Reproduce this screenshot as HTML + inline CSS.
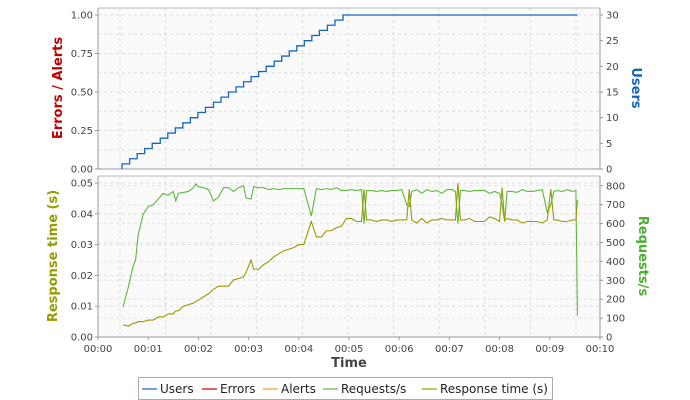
<!DOCTYPE html>
<html><head><meta charset="utf-8"><style>
body{margin:0;background:#fff;font-family:"Liberation Sans","DejaVu Sans",sans-serif}
svg{display:block}
text{font-family:"DejaVu Sans","Liberation Sans",sans-serif}
</style></head><body>
<svg id="c" width="690" height="400" xmlns="http://www.w3.org/2000/svg"></svg>
<script>
const stepTimes=[0.48,0.63,0.78,0.93,1.08,1.24,1.39,1.54,1.69,1.84,1.99,2.14,2.30,2.45,2.60,2.75,2.90,3.05,3.20,3.35,3.51,3.66,3.81,3.96,4.11,4.26,4.41,4.57,4.72,4.88];
const userCounts=[1,2,3,4,5,6,7,8,9,10,11,12,13,14,15,16,17,18,19,20,21,22,23,24,25,26,27,28,29,30];
const userEnd=9.55;
const times=[0.5,0.6,0.7,0.75,0.8,0.9,1.0,1.1,1.2,1.3,1.4,1.5,1.55,1.6,1.7,1.8,1.9,1.95,2.0,2.1,2.2,2.3,2.4,2.5,2.6,2.7,2.8,2.9,2.95,3.05,3.1,3.2,3.3,3.4,3.5,3.6,3.7,3.8,3.9,4.0,4.1,4.25,4.35,4.45,4.55,4.65,4.75,4.85,4.95,5.05,5.15,5.25,5.3,5.35,5.45,5.55,5.65,5.75,5.85,5.95,6.05,6.15,6.2,6.25,6.35,6.45,6.55,6.65,6.75,6.85,6.95,7.05,7.12,7.17,7.22,7.3,7.4,7.5,7.6,7.7,7.8,7.9,8.0,8.05,8.1,8.15,8.25,8.35,8.45,8.55,8.65,8.75,8.85,8.95,9.02,9.08,9.15,9.25,9.35,9.45,9.52,9.55];
const requests=[160,260,375,410,540,650,690,700,730,760,750,770,720,760,765,770,790,810,795,790,780,720,740,790,790,770,790,800,735,730,795,790,790,780,785,780,785,785,785,785,785,640,785,780,785,780,790,775,775,780,775,780,600,775,775,770,775,770,775,775,780,700,690,770,780,760,780,770,775,760,780,780,770,600,775,775,770,775,775,775,760,770,760,700,610,770,770,765,780,770,770,775,780,660,700,770,775,770,780,770,775,115];
const respTime=[.004,.0035,.0045,.0045,.005,.005,.0055,.0055,.0065,.0065,.0075,.0075,.0085,.0085,.010,.0105,.011,.0115,.012,.013,.014,.0155,.0165,.0165,.0165,.0185,.019,.0195,.021,.025,.022,.022,.0235,.0245,.026,.027,.028,.0285,.029,.030,.030,.0375,.0325,.0325,.0345,.0345,.0355,.036,.0385,.0385,.0375,.0375,.048,.038,.038,.0375,.038,.038,.0375,.038,.038,.038,.048,.038,.037,.0385,.037,.038,.038,.0385,.038,.038,.038,.050,.038,.038,.0385,.0375,.0375,.0375,.039,.0385,.0375,.0485,.038,.0385,.038,.038,.037,.0375,.0375,.0375,.037,.038,.048,.038,.038,.0375,.0375,.038,.038,.0445];
const xTicks=["00:00","00:01","00:02","00:03","00:04","00:05","00:06","00:07","00:08","00:09","00:10"];
const topLeftTicks=["0.00","0.25","0.50","0.75","1.00"];
const topRightTicks=["0","5","10","15","20","25","30"];
const botLeftTicks=["0.00","0.01","0.02","0.03","0.04","0.05"];
const botRightTicks=["0","100","200","300","400","500","600","700","800"];

const svg=document.getElementById('c');const NS='http://www.w3.org/2000/svg';
function el(t,a,p){const e=document.createElementNS(NS,t);for(const k in a)e.setAttribute(k,a[k]);(p||svg).appendChild(e);return e;}
const X0=98,X1=600;const xs=m=>X0+m*(X1-X0)/10;
const T={top:8,bot:169},B={top:176,bot:337};
const yTL=v=>169-v*154, yTR=v=>169-v*154/30;
const yBL=v=>337-v*3080, yBR=v=>337-v*0.189;

function panel(P,name){
 const g=el('g',{});
 el('rect',{x:X0,y:P.top,width:X1-X0,height:P.bot-P.top,fill:'#fafafa',stroke:'none'},g);
 for(let k=0;k<11;k++){const x=120+45.6*k;if(x<X1)el('line',{x1:x,x2:x,y1:P.top,y2:P.bot,stroke:'#ddd','stroke-dasharray':'3,3'},g);}
 return g;
}
const gt=panel(T,'users-errors-panel');
for(let v=0;v<=1.0001;v+=0.125)el('line',{x1:X0,x2:X1,y1:yTL(v),y2:yTL(v),stroke:'#ddd','stroke-dasharray':'3,3'},gt);
const gb=panel(B,'response-requests-panel');
for(let v=0;v<=0.05;v+=0.01)el('line',{x1:X0,x2:X1,y1:yBL(v),y2:yBL(v),stroke:'#ddd','stroke-dasharray':'3,3'},gb);
for(let v=0;v<=800;v+=100)el('line',{x1:X0,x2:X1,y1:yBR(v),y2:yBR(v),stroke:'#e4e4e4','stroke-dasharray':'3,3'},gb);
// borders/axes
[T,B].forEach(P=>{el('line',{x1:X0,x2:X1,y1:P.top,y2:P.top,stroke:'#bbb'});el('line',{x1:X0,x2:X0,y1:P.top,y2:P.bot,stroke:'#999'});el('line',{x1:X1,x2:X1,y1:P.top,y2:P.bot,stroke:'#999'});el('line',{x1:X0,x2:X1,y1:P.bot,y2:P.bot,stroke:'#999'});});
function lbl(x,y,t,anchor,name){const e=el('text',{x:x,y:y,'font-size':10,fill:'#444','text-anchor':anchor});e.textContent=t;return e;}
topLeftTicks.forEach((t,i)=>{const y=yTL(parseFloat(t));el('line',{x1:X0-3,x2:X0,y1:y,y2:y,stroke:'#999'});lbl(X0-5,y+3.5,t,'end','top-left-tick');});
topRightTicks.forEach(t=>{const y=yTR(parseFloat(t));el('line',{x1:X1,x2:X1+3,y1:y,y2:y,stroke:'#999'});lbl(X1+6,y+3.5,t,'start','top-right-tick');});
botLeftTicks.forEach(t=>{const y=yBL(parseFloat(t));el('line',{x1:X0-3,x2:X0,y1:y,y2:y,stroke:'#999'});lbl(X0-5,y+3.5,t,'end','bottom-left-tick');});
botRightTicks.forEach(t=>{const y=yBR(parseFloat(t));el('line',{x1:X1,x2:X1+3,y1:y,y2:y,stroke:'#999'});lbl(X1+6,y+3.5,t,'start','bottom-right-tick');});
xTicks.forEach((t,i)=>{const x=xs(i);el('line',{x1:x,x2:x,y1:B.bot,y2:B.bot+3,stroke:'#999'});lbl(x,B.bot+15,t,'middle','x-tick');});
function title(x,y,t,col,name,rot,bold){const e=el('text',{x:x,y:y,'font-size':13,'font-weight':'bold',fill:col,'text-anchor':'middle',transform:rot?`rotate(${rot} ${x} ${y})`:''});e.textContent=t;}
title(62,88,'Errors / Alerts','#c00000','errors-alerts-axis-title',-90);
title(632,88,'Users','#1565c0','users-axis-title',90);
title(57,256,'Response time (s)','#999900','response-time-axis-title',-90);
title(639,256,'Requests/s','#4caf30','requests-axis-title',90);
title(349,367,'Time','#444','x-axis-title',0);
// users step
let d='M'+xs(stepTimes[0])+' '+yTR(0);
stepTimes.forEach((t,i)=>{d+=' L'+xs(t)+' '+(i?yTR(userCounts[i-1]):yTR(0))+' L'+xs(t)+' '+yTR(userCounts[i]);});
d+=' L'+xs(userEnd)+' '+yTR(userCounts[userCounts.length-1]);
const pu=el('path',{d:d,fill:'none',stroke:'#1565c0','stroke-width':1.3});

const pr=el('path',{d:times.map((t,i)=>(i?'L':'M')+xs(t)+' '+yBR(requests[i])).join(' '),fill:'none',stroke:'#5cb83c','stroke-width':1.1});

const prt=el('path',{d:times.map((t,i)=>(i?'L':'M')+xs(t)+' '+yBL(respTime[i])).join(' '),fill:'none',stroke:'#9a9a00','stroke-width':1.1});

// legend
const lg=el('g',{});
el('rect',{x:138.5,y:377.5,width:414,height:22,fill:'#fff',stroke:'#aaa'},lg);
const items=[['Users','#1565c0',142],['Errors','#c00000',202],['Alerts','#e8a020',263],['Requests/s','#5cb83c',323],['Response time (s)','#9a9a00',422]];
items.forEach(([n,c,x])=>{const gi=el('g',{},lg);
 el('line',{x1:x,x2:x+15,y1:389,y2:389,stroke:c,'stroke-width':1.2},gi);
 const t=el('text',{x:x+18,y:393,'font-size':12,fill:'#222'},gi);t.textContent=n;});
</script>
</body></html>
